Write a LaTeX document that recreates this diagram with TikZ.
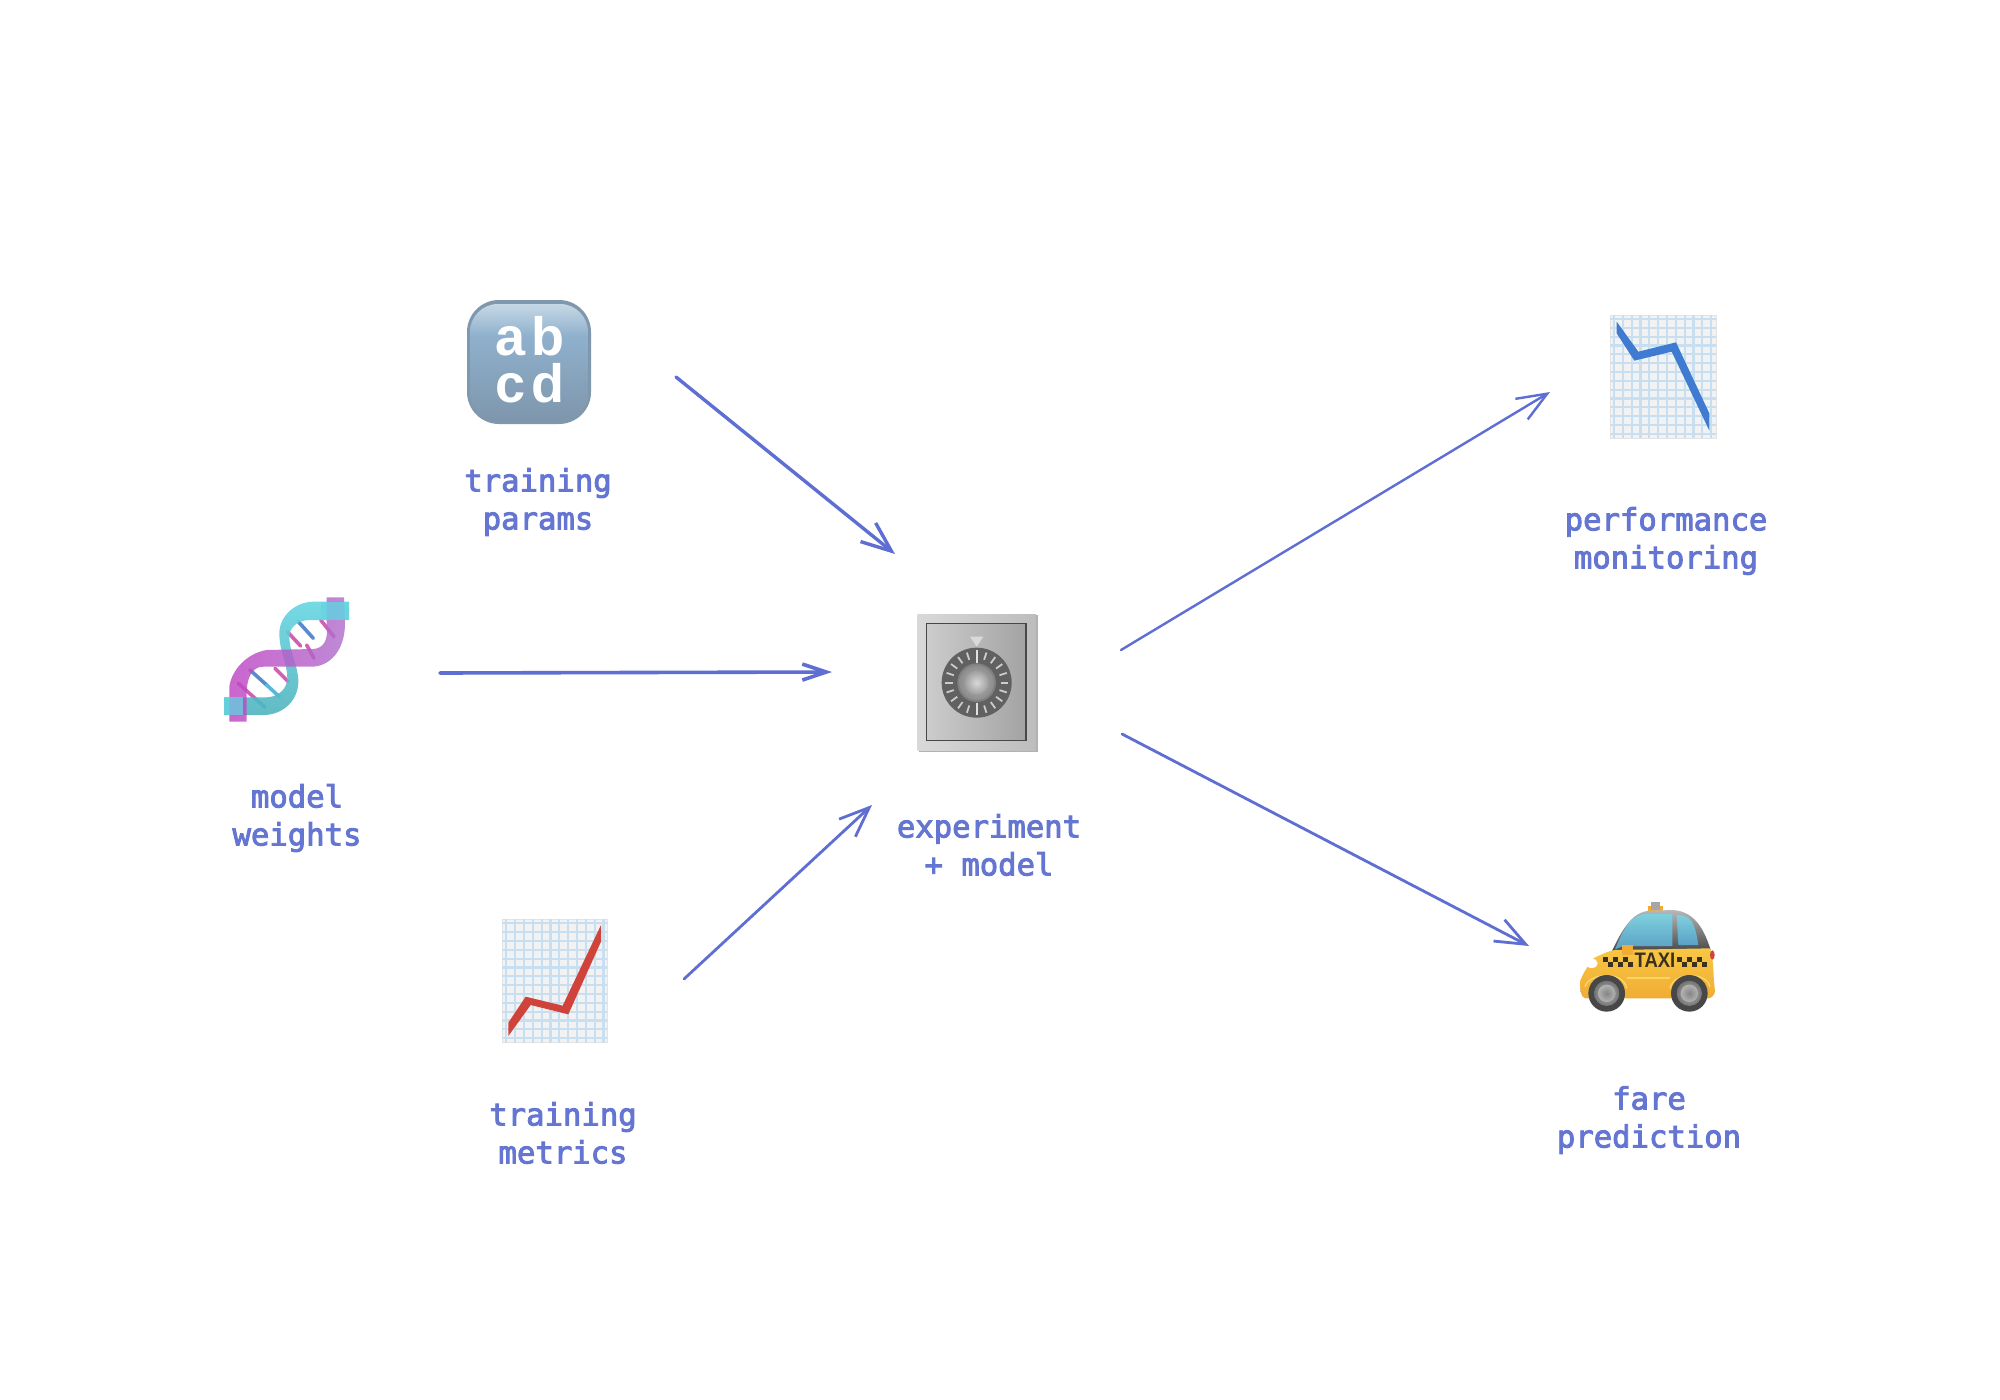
\documentclass[tikz,border=0pt]{standalone}
\usepackage{fontspec}
\setmainfont{Liberation Sans}
\newfontfamily\labelfont[FakeBold=3]{DejaVu Sans Mono}
\usetikzlibrary{arrows.meta}
\definecolor{arrowc}{HTML}{5E6ED2}
\definecolor{labelc}{HTML}{6475D2}
\definecolor{gridc}{HTML}{C8DFF2}
\definecolor{pinkc}{HTML}{E87CE4}
\definecolor{pinkd}{HTML}{C044C4}
\definecolor{pinkv}{HTML}{B070CC}
\definecolor{rungp}{HTML}{D060B4}
\definecolor{rungb}{HTML}{5A8ACC}
\definecolor{rungc}{HTML}{58B8DC}
\definecolor{cyanc}{HTML}{66D6E2}
\definecolor{cyand}{HTML}{52B4BE}
\definecolor{keya}{HTML}{C6D8E6}
\definecolor{keyb}{HTML}{8FB0CC}
\definecolor{keyc}{HTML}{7E96AC}
\definecolor{keyedge}{HTML}{7F98AE}
\definecolor{fallc}{HTML}{3F7BD0}
\definecolor{risec}{HTML}{D0433A}
\definecolor{bodya}{HTML}{F8C744}
\definecolor{bodyb}{HTML}{F0AC34}
\definecolor{bodyl}{HTML}{FBD565}
\definecolor{glassa}{HTML}{7FD0DE}
\definecolor{glassb}{HTML}{5AA0C4}
\definecolor{taxit}{HTML}{3A3020}
\tikzset{
  flow/.style={draw=arrowc,line cap=round,line join=round},
  lab/.style={text=labelc,align=center,font=\labelfont\fontsize{30.6}{38}\selectfont,anchor=center,inner sep=0pt},
  abcdt/.style={text=white,align=center,font=\bfseries\fontsize{54}{47}\selectfont,anchor=center,inner sep=0pt},
  rung/.style={line width=3.6pt,line cap=round},
}
\newcommand{\chartpaper}[4]{%
  \fill[black!5,draw=black!11,line width=1pt] (#1,#2) rectangle (#3,#4);
  \begin{scope}
    \clip (#1,#2) rectangle (#3,#4);
    \foreach \k in {0,...,11}{\draw[gridc,line width=2.2pt] ({#1+12+\k*26.5},#2) -- ({#1+12+\k*26.5},#4);}
    \foreach \k in {0,...,13}{\draw[gridc,line width=2.2pt] (#1,{#2+12+\k*26.5}) -- (#3,{#2+12+\k*26.5});}
  \end{scope}}
\newcommand{\wheel}[1]{%
  \fill[black!72] (#1,340) circle (55);
  \shade[inner color=black!25,outer color=black!55] (#1,340) circle (38);
  \shade[inner color=black!48,outer color=black!30] (#1,340) circle (26);}
\begin{document}
\begin{tikzpicture}[x=1pt,y=-1pt]
\useasboundingbox (0,0) rectangle (2000,1400);
\fill[white] (0,0) rectangle (2000,1400);

% abcd key
\fill[keyedge,rounded corners=32pt] (467,300) rectangle (591,424);
\begin{scope}
  \clip[rounded corners=28pt] (470,304) rectangle (588,421);
  \shade[top color=keya,bottom color=keyb] (470,304) rectangle (588,336);
  \shade[top color=keyb,bottom color=keyc] (470,336) rectangle (588,421);
\end{scope}
\node[abcdt] (abcd) at (530,360) {a\hspace{6pt}b\\c\hspace{6pt}d};

% dna
\begin{scope}[shift={(200,570)},scale=1/3]
  \draw[rung,rungp] (115,340) -- (165,385);
  \draw[rung,rungb] (165,385) -- (195,412);
  \draw[rung,rungb] (150,300) -- (200,345);
  \draw[rung,rungc] (200,345) -- (238,380);
  \draw[rung,rungp] (225,295) -- (265,335);
  \draw[rung,rungp] (262,185) -- (302,228);
  \draw[rung,rungb] (295,155) -- (340,205);
  \draw[rung,rungp] (320,225) -- (342,265);
  \draw[rung,rungp] (362,150) -- (402,200);
  % cyan strand
  \shade[top color=cyanc,bottom color=cyand,opacity=.9]
    (72,382) -- (72,435) -- (190,435) .. controls (250,435) and (297,390) .. (295,330)
    .. controls (293,285) and (270,250) .. (268,205) .. controls (266,175) and (290,150) .. (330,150)
    -- (447,150) -- (447,95) -- (340,95) .. controls (290,95) and (238,135) .. (238,190)
    .. controls (238,245) and (262,280) .. (262,325) .. controls (262,355) and (235,385) .. (190,382) -- cycle;
  % pink strand
  \shade[left color=pinkd,middle color=pinkc,right color=pinkv,opacity=.82]
    (88,455) -- (140,455) -- (140,370) .. controls (140,335) and (150,290) .. (190,290)
    -- (340,290) .. controls (400,285) and (435,230) .. (435,160) -- (432,82) -- (380,82) -- (380,170)
    .. controls (385,210) and (370,235) .. (340,237) -- (200,240)
    .. controls (140,250) and (95,300) .. (88,350) -- cycle;
  \fill[cyanc,opacity=.75] (72,382) rectangle (130,435);
  \fill[cyanc,opacity=.8] (362,95) rectangle (447,150);
\end{scope}

% safe
\begin{scope}[shift={(890,590)},scale=1/3]
  \fill[black!30] (88,76) rectangle (444,486);
  \shade[left color=black!15,right color=black!26] (82,72) rectangle (438,482);
  \shade[left color=black!20,right color=black!36,draw=black!72,line width=1.1pt] (110,100) rectangle (408,452);
  \fill[black!15] (240,140) -- (280,140) -- (260,170) -- cycle;
  \fill[black!62] (260,278) circle (105);
  \begin{scope}[shift={(260,278)}]
    \foreach \t in {0,18,...,342}{\draw[black!20,line width=1.8pt] (\t:72) -- (\t:95);}
    \foreach \t in {90,270}{\draw[black!12,line width=2pt] (\t:60) -- (\t:98);}
  \end{scope}
  \fill[black!50] (260,278) circle (58);
  \shade[inner color=black!30,outer color=black!45] (260,278) circle (52);
  \shade[inner color=black!15,outer color=black!38] (260,278) circle (36);
\end{scope}

% falling chart
\begin{scope}[shift={(1590,300)},scale=1/3]
  \chartpaper{60}{45}{378}{415}
  \fill[fallc] (80,65) -- (145,155) -- (258,127) -- (358,340) -- (358,392) -- (245,155) -- (133,182) -- (80,100) -- cycle;
\end{scope}

% rising chart
\begin{scope}[shift={(490,910)},scale=1/3]
  \chartpaper{37}{28}{352}{398}
  \fill[risec] (333,45) -- (333,95) -- (235,313) -- (122,285) -- (55,378) -- (55,338) -- (107,260) -- (218,287) -- cycle;
\end{scope}

% taxi
\begin{scope}[shift={(1560,880)},scale=1/3]
  \fill[bodyb] (265,92) rectangle (308,78);
  \fill[black!35] (273,65) rectangle (300,90);
  \shade[top color=black!28,bottom color=black!72]
    (155,215) .. controls (190,140) and (220,95) .. (270,92) -- (340,90) .. controls (400,95) and (430,140) .. (452,210) -- cycle;
  \shade[top color=glassa,bottom color=glassb]
    (165,208) .. controls (190,150) and (210,102) .. (260,102) -- (337,102) -- (337,198) -- (190,198) -- cycle;
  \shade[top color=glassa,bottom color=glassb]
    (350,105) .. controls (395,105) and (405,130) .. (415,195) -- (355,195) -- cycle;
  \shade[top color=bodya,bottom color=bodyb]
    (60,310) .. controls (65,280) and (85,260) .. (100,235) .. controls (130,220) and (150,212) .. (165,210)
    -- (450,205) .. controls (462,240) and (460,290) .. (462,305) -- (465,335) .. controls (462,350) and (450,355) .. (445,355)
    -- (75,355) .. controls (62,350) and (60,330) .. (60,310) -- cycle;
  \fill[bodyl] (200,292) rectangle (330,298);
  \draw[bodyl,line width=1.5pt] (75,320) .. controls (85,280) and (190,270) .. (200,325);
  \draw[bodyl,line width=1.5pt] (330,325) .. controls (340,275) and (440,275) .. (450,320);
  \fill[bodyb] (185,195) rectangle (218,225);
  \fill[white] (95,250) ellipse (18 and 14);
  \fill[risec] (457,225) ellipse (7 and 14);
  \foreach \x/\y in {130/230,160/230,190/230,145/245,175/245,205/245,365/245,395/245,425/245,350/230,380/230,410/230}{
    \fill[taxit] (\x,\y) rectangle +(15,15);}
  \node[font=\bfseries\fontsize{21}{21}\selectfont,text=taxit,inner sep=0pt] (taxi) at (285,241) {\scalebox{.88}[1]{TAXI}};
  \wheel{140}
  \wheel{388}
\end{scope}

% labels
\node[lab] (lparams) at (538,502) {training\\params};
\node[lab] (lweights) at (297,818) {model\\weights};
\node[lab] (lsafe) at (989,845) {experiment\\+ model};
\node[lab] (lmetrics) at (563,1133) {training\\metrics};
\node[lab] (lperf) at (1666,541) {performance\\monitoring};
\node[lab] (lfare) at (1649,1120) {fare\\prediction};

% connector ends
\coordinate (s1) at (676,377); \coordinate (e1) at (895,554);
\coordinate (s2) at (440,673); \coordinate (e2) at (832,672);
\coordinate (s3) at (684,979); \coordinate (e3) at (872,805);
\coordinate (s4) at (1121,650); \coordinate (e4) at (1550,392);
\coordinate (s5) at (1122,734); \coordinate (e5) at (1529,946);
\draw[flow,line width=3.4pt,-{Straight Barb[length=30pt,width=24pt]}] (s1) -- (e1);
\draw[flow,line width=3.6pt,-{Straight Barb[length=24pt,width=16pt]}] (s2) -- (e2);
\draw[flow,line width=2.8pt,-{Straight Barb[length=30pt,width=24pt]}] (s3) -- (e3);
\draw[flow,line width=2.4pt,-{Straight Barb[length=30pt,width=24pt]}] (s4) -- (e4);
\draw[flow,line width=2.8pt,-{Straight Barb[length=30pt,width=24pt]}] (s5) -- (e5);
\end{tikzpicture}
\end{document}
